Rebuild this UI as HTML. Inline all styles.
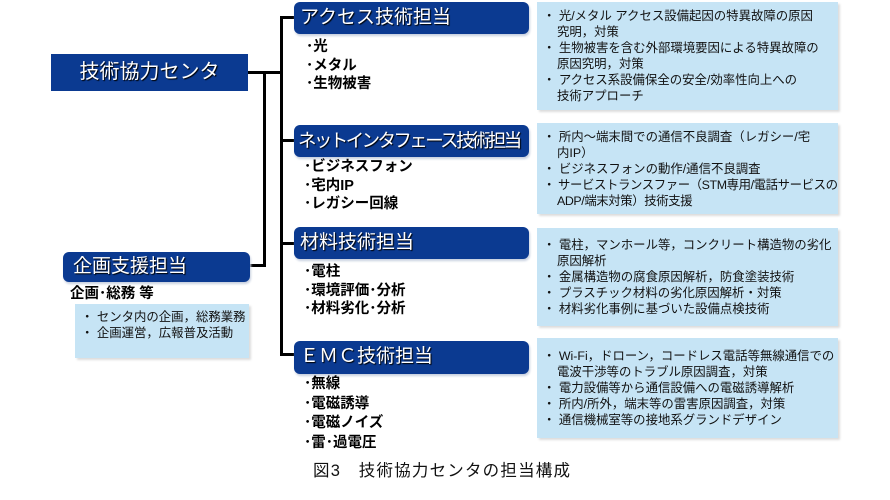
<!DOCTYPE html>
<html><head><meta charset="utf-8"><style>
body{margin:0;width:890px;height:500px;background:#fff;position:relative;overflow:hidden;font-family:"Liberation Sans","Noto Sans CJK JP",sans-serif;}
.a{position:absolute;}
.hd{position:absolute;background:#0b3a91;color:#fff;border-radius:6px;font-size:19px;line-height:32px;padding-left:6px;box-sizing:border-box;box-shadow:1px 2px 2px #c8d0e0;text-shadow:1px 1px 1px #000;white-space:nowrap;overflow:hidden;}
.ln{position:absolute;background:#000;}
.lb{position:absolute;background:#c6e4f5;font-size:12.4px;line-height:16px;color:#111;padding:6px 4px 0 6px;box-sizing:border-box;box-shadow:2px 2px 2px #ddd;white-space:nowrap;}
.bl{position:absolute;font-weight:bold;font-size:14.5px;line-height:18.5px;color:#000;white-space:nowrap;}
.i{padding-left:14px;text-indent:-14px;}
</style></head><body>
<div class="a" style="left:51px;top:54px;width:197px;height:37px;background:#0b3a91;color:#fff;font-size:20px;line-height:37px;text-align:center;text-shadow:1px 1px 1px #000;">技術協力センタ</div>
<div class="ln" style="left:248px;top:71px;width:34px;height:3px"></div>
<div class="ln" style="left:263px;top:71px;width:3px;height:196px"></div>
<div class="ln" style="left:250px;top:264px;width:16px;height:3px"></div>
<div class="ln" style="left:280px;top:16px;width:3px;height:340px"></div>
<div class="ln" style="left:280px;top:16px;width:15px;height:3px"></div>
<div class="ln" style="left:280px;top:139px;width:15px;height:3px"></div>
<div class="ln" style="left:280px;top:242px;width:15px;height:3px"></div>
<div class="ln" style="left:280px;top:353px;width:15px;height:3px"></div>

<div class="hd" style="left:294px;top:2px;width:235px;height:32px">アクセス技術担当</div>
<div class="hd" style="left:294px;top:125px;width:235px;height:32px;font-size:18.5px;letter-spacing:-2.6px;padding-left:4px">ネットインタフェース技術担当</div>
<div class="hd" style="left:294px;top:227px;width:235px;height:32px">材料技術担当</div>
<div class="hd" style="left:294px;top:341px;width:235px;height:33px">ＥＭＣ技術担当</div>

<div class="bl" style="left:306px;top:38px">･光<br>･メタル<br>･生物被害</div>
<div class="bl" style="left:304px;top:158px">･ビジネスフォン<br>･宅内IP<br>･レガシー回線</div>
<div class="bl" style="left:304px;top:263px">･電柱<br>･環境評価･分析<br>･材料劣化･分析</div>
<div class="bl" style="left:304px;top:375px;line-height:19.5px">･無線<br>･電磁誘導<br>･電磁ノイズ<br>･雷･過電圧</div>

<div class="lb" style="left:537px;top:2px;width:301px;height:108px">
<div class="i">・ 光/メタル アクセス設備起因の特異故障の原因<br>究明，対策</div><div class="i">・ 生物被害を含む外部環境要因による特異故障の<br>原因究明，対策</div><div class="i">・ アクセス系設備保全の安全/効率性向上への<br>技術アプローチ</div></div>
<div class="lb" style="left:537px;top:123px;width:301px;height:91px">
<div class="i">・ 所内～端末間での通信不良調査（レガシー/宅<br>内IP）</div><div class="i">・ ビジネスフォンの動作/通信不良調査</div><div class="i" style="letter-spacing:-0.4px">・ サービストランスファー（STM専用/電話サービスの<br>ADP/端末対策）技術支援</div></div>
<div class="lb" style="left:537px;top:228px;width:301px;height:98px;padding-top:9px">
<div class="i">・ 電柱，マンホール等，コンクリート構造物の劣化<br>原因解析</div><div class="i">・ 金属構造物の腐食原因解析，防食塗装技術</div><div class="i">・ プラスチック材料の劣化原因解析・対策</div><div class="i">・ 材料劣化事例に基づいた設備点検技術</div></div>
<div class="lb" style="left:537px;top:338px;width:301px;height:100px;padding-top:10px">
<div class="i">・ Wi-Fi，ドローン，コードレス電話等無線通信での<br>電波干渉等のトラブル原因調査，対策</div><div class="i">・ 電力設備等から通信設備への電磁誘導解析</div><div class="i">・ 所内/所外，端末等の雷害原因調査，対策</div><div class="i">・ 通信機械室等の接地系グランドデザイン</div></div>

<div class="hd" style="left:63px;top:252px;width:187px;height:30px;line-height:30px;font-size:19px;padding-left:10px">企画支援担当</div>
<div class="bl" style="left:70px;top:285px">企画･総務 等</div>
<div class="lb" style="left:75px;top:304px;width:174px;height:54px;padding:5px 0 0 6px">・ センタ内の企画，総務業務<br>・ 企画運営，広報普及活動</div>

<div class="a" style="left:313px;top:460px;font-size:16.5px;line-height:22px;color:#111;letter-spacing:1.2px">図3　技術協力センタの担当構成</div>
</body></html>
